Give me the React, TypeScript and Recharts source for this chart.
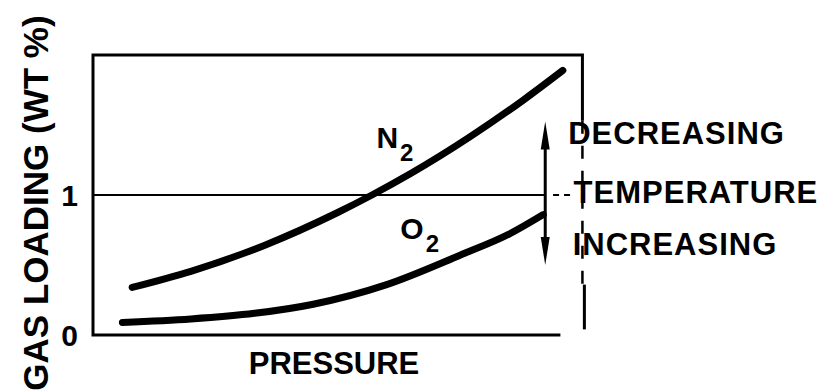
import React from 'react';
import { LineChart, Line, XAxis, YAxis, ReferenceLine, ReferenceDot } from 'recharts';

// Pressure positions (arbitrary 0-100 scale) and gas loading (wt %)
const n2Pressure = [8, 20, 35, 50, 57, 65, 77, 88, 96];
const n2Loading = [0.34, 0.455, 0.64, 0.875, 1.0, 1.155, 1.415, 1.68, 1.89];
const o2Pressure = [6, 20, 33, 45, 60, 75, 85, 92];
const o2Loading = [0.09, 0.115, 0.155, 0.22, 0.36, 0.57, 0.72, 0.86];
const loadingTicks = [0, 1];

// frame outline, traced from the upper right edge round to the bottom
const frameP = [100, 100, 0, 0, 95.5];
const frameV = [1.53, 2, 2, 0, 0];
// right-hand edge below the top: dashed through the labels, then solid
const edgeMiddle = [1.53, 0.36];
const edgeBottom = [0.36, 0.04];

const n2Data = n2Pressure.map((p, i) => ({ p, v: n2Loading[i] }));
const o2Data = o2Pressure.map((p, i) => ({ p, v: o2Loading[i] }));
const frameData = frameP.map((p, i) => ({ p, v: frameV[i] }));
const edge = (vals: number[], p: number) => vals.map((v) => ({ p, v }));

const FONT = '"Liberation Sans", Arial, Helvetica, sans-serif';

const Arrow = (props: any) => {
  const { x1, y1, x2, y2 } = props;
  const x = x1;
  const top = Math.min(y1, y2);
  const bottom = Math.max(y1, y2);
  const head = 28;
  const half = 4.5;
  return (
    <g>
      <line x1={x} y1={top + head - 2} x2={x} y2={bottom - head + 2} stroke="#000" strokeWidth={3} />
      <path d={`M${x},${top} L${x - half},${top + head} L${x + half},${top + head} Z`} fill="#000" />
      <path d={`M${x},${bottom} L${x - half},${bottom - head} L${x + half},${bottom - head} Z`} fill="#000" />
    </g>
  );
};

const word = (value: string) => (props: any) => (
  <text
    x={props.cx}
    y={props.cy}
    dominantBaseline="central"
    fontFamily={FONT}
    fontWeight="bold"
    fontSize={31}
    letterSpacing={1}
    fill="#000"
  >
    {value}
  </text>
);

const formula = (letter: string) => (props: any) => (
  <text x={props.cx} y={props.cy} fontFamily={FONT} fontWeight="bold" fontSize={30} fill="#000">
    {letter}
    <tspan dx={2} dy={13} fontSize={24}>2</tspan>
  </text>
);

const lineCommon = { dataKey: 'v', type: 'linear' as const, stroke: '#000', dot: false, isAnimationActive: false };

export default function App() {
  return (
    <div style={{ position: 'absolute', left: 0, top: 0, background: '#fff' }}>
      <LineChart width={823} height={391} margin={{ top: 55, right: 221, bottom: 0, left: 0 }}>
        <XAxis
          type="number"
          dataKey="p"
          domain={[0, 104]}
          tick={false}
          axisLine={false}
          tickLine={false}
          height={56}
          label={{
            content: (props: any) => {
              const vb = props.viewBox;
              return (
                <text
                  x={vb.x + 241}
                  y={vb.y + 28}
                  textAnchor="middle"
                  dominantBaseline="central"
                  fontFamily={FONT}
                  fontWeight="bold"
                  fontSize={31}
                  fill="#000"
                >
                  PRESSURE
                </text>
              );
            },
          }}
        />
        <YAxis
          type="number"
          domain={[0, 2]}
          ticks={loadingTicks}
          width={93}
          axisLine={false}
          tickLine={false}
          tickMargin={9}
          tick={{ fontFamily: FONT, fontWeight: 'bold', fontSize: 30, fill: '#000' }}
          label={{
            content: (props: any) => {
              const vb = props.viewBox;
              const cx = vb.x + 35;
              const cy = vb.y + vb.height / 2 + 8;
              return (
                <text
                  x={cx}
                  y={cy}
                  transform={`rotate(-90, ${cx}, ${cy})`}
                  textAnchor="middle"
                  dominantBaseline="central"
                  fontFamily={FONT}
                  fontWeight="bold"
                  fontSize={35}
                  fill="#000"
                >
                  GAS LOADING (WT %)
                </text>
              );
            },
          }}
        />

        {/* frame */}
        <Line {...lineCommon} data={frameData} strokeWidth={3} strokeLinejoin="miter" />
        <Line {...lineCommon} data={edge(edgeMiddle, 100)} strokeWidth={2.5} strokeDasharray="13 12" />
        <Line {...lineCommon} data={edge(edgeBottom, 100.4)} strokeWidth={3} />

        {/* reference level at 1 wt % */}
        <ReferenceLine segment={[{ x: 0, y: 1 }, { x: 92.4, y: 1 }]} stroke="#000" strokeWidth={2} ifOverflow="visible" />
        <ReferenceLine
          segment={[{ x: 94, y: 1 }, { x: 97.8, y: 1 }]}
          stroke="#000"
          strokeWidth={2}
          strokeDasharray="6 5"
          ifOverflow="visible"
        />

        <Line data={n2Data} dataKey="v" type="monotone" stroke="#000" strokeWidth={7} strokeLinecap="round" dot={false} isAnimationActive={false} />
        <Line data={o2Data} dataKey="v" type="monotone" stroke="#000" strokeWidth={7} strokeLinecap="round" dot={false} isAnimationActive={false} />

        {/* temperature arrow */}
        <ReferenceLine segment={[{ x: 92.4, y: 1.525 }, { x: 92.4, y: 0.5 }]} shape={Arrow} ifOverflow="visible" />

        <ReferenceDot x={57.9} y={1.338} r={0} shape={formula('N')} ifOverflow="visible" />
        <ReferenceDot x={62.8} y={0.683} r={0} shape={formula('O')} ifOverflow="visible" />
        <ReferenceDot x={97.1} y={1.44} r={0} shape={word('DECREASING')} ifOverflow="visible" />
        <ReferenceDot x={98.2} y={1.02} r={0} shape={word('TEMPERATURE')} ifOverflow="visible" />
        <ReferenceDot x={98.0} y={0.65} r={0} shape={word('INCREASING')} ifOverflow="visible" />
      </LineChart>
    </div>
  );
}
